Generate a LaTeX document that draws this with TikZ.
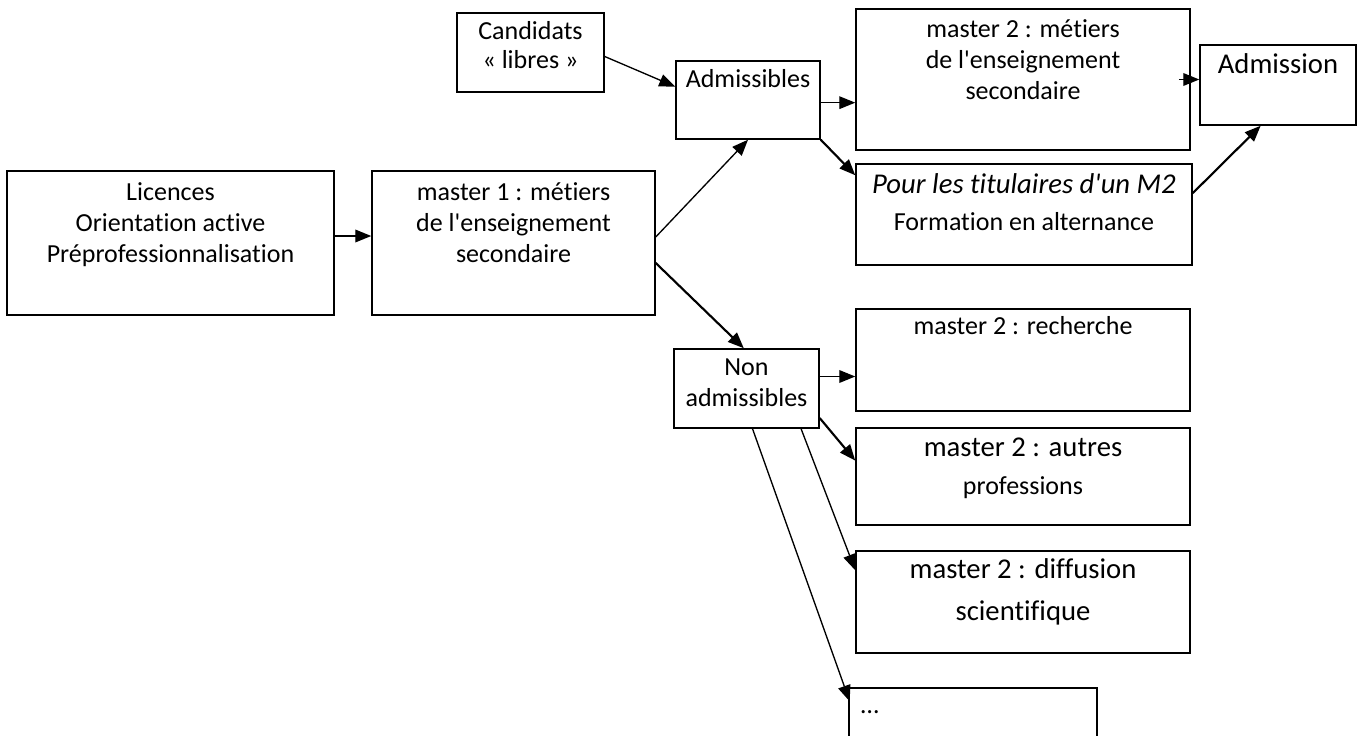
\documentclass[tikz,border=0pt]{standalone}
\usepackage{fontspec}
\setmainfont{Carlito}[Ligatures={TeXOff,NoCommon}]
\usetikzlibrary{arrows.meta,fit}

\begin{document}
\begin{tikzpicture}[x=0.75pt,y=-0.75pt,>={Triangle[length=12pt,width=9.5pt]},
  boite/.style={draw,line width=1.1pt,inner sep=0pt},
  texte/.style={anchor=base,align=center,inner sep=0pt,font=\fontsize{19.5}{23.25}\selectfont},
  grand/.style={anchor=base,inner sep=0pt,font=\fontsize{21.5}{25}\selectfont},
  fleche/.style={->,line width=1pt},
  grosse fleche/.style={->,line width=1.6pt}]
  \useasboundingbox (0,0) rectangle (1358,735);

  % boites
  \node[boite,fit={(7,171) (334,315)}] (lic) {};
  \node[boite,fit={(372,171) (655,315)}] (mun) {};
  \node[boite,fit={(457,13) (604,92)}] (cand) {};
  \node[boite,fit={(676,61) (820,139)}] (adm) {};
  \node[boite,fit={(856,9) (1190,150)}] (mdeux) {};
  \node[boite,fit={(1200,45) (1356,125)}] (admission) {};
  \node[boite,fit={(856,164) (1192,265)}] (tit) {};
  \node[boite,fit={(674,349) (819,428)}] (nonadm) {};
  \node[boite,fit={(856,309) (1190,411)}] (rech) {};
  \node[boite,fit={(856,428) (1190,525)}] (autres) {};
  \node[boite,fit={(856,551) (1190,653)}] (diff) {};
  \node[boite,line width=2pt,fit={(849,688) (1097,760)}] (dots) {};

  % textes (base = derniere ligne)
  \node[texte] at ([yshift=-69pt]lic.north) {Licences\\Orientation active\\Préprofessionnalisation};
  \node[texte] at ([yshift=-69pt]mun.north) {master 1 : métiers\\de l'enseignement\\secondaire};
  \node[texte] at ([yshift=-42pt]cand.north) {Candidats\\[-1.5pt]« libres »};
  \node[texte] at ([yshift=-20.25pt]adm.north) {Admissibles};
  \node[texte] at ([yshift=-68.25pt]mdeux.north) {master 2 : métiers\\de l'enseignement\\secondaire};
  \node[grand] at ([yshift=-21.75pt]admission.north) {Admission};
  \node[grand,font=\fontsize{21.5}{25}\selectfont\itshape] at ([yshift=-22.5pt]tit.north) {Pour les titulaires d'un M2};
  \node[texte] at ([yshift=-50.25pt]tit.north) {Formation en alternance};
  \node[texte] at ([yshift=-43.5pt]nonadm.north) {Non\\admissibles};
  \node[texte] at ([yshift=-19.5pt]rech.north) {master 2 : recherche};
  \node[grand] at ([yshift=-21.75pt]autres.north) {master 2 : autres};
  \node[texte] at ([yshift=-50.25pt]autres.north) {professions};
  \node[grand] at ([yshift=-21pt]diff.north) {master 2 : diffusion};
  \node[grand] at ([yshift=-52.5pt]diff.north) {scientifique};
  \node[texte,anchor=base west] at ([xshift=9.75pt,yshift=-20.25pt]dots.north west) {\ldots};

  % fleches
  \draw[fleche] ([yshift=5.25pt]lic.east) -- ([yshift=5.25pt]mun.west);
  \draw[fleche] ([yshift=-3pt]cand.east) -- ([yshift=10pt]adm.west);
  \draw[fleche] ([yshift=4.5pt]mun.east) -- (adm.south);
  \draw[grosse fleche] ([yshift=-15pt]mun.east) -- ([xshift=-2pt]nonadm.north);
  \draw[fleche] ([yshift=-2pt]adm.east) -- ([yshift=-2pt]adm.east -| mdeux.west);
  \draw[grosse fleche] (adm.south east) -- ([yshift=-9pt]tit.north west);
  \draw[fleche] ([xshift=-9pt]mdeux.east) -- (mdeux.east -| admission.west);
  \draw[grosse fleche] ([yshift=16pt]tit.east) -- ([xshift=-13pt]admission.south);
  \draw[fleche] ([yshift=9pt]nonadm.east) -- ([yshift=9pt]nonadm.east -| rech.west);
  \draw[grosse fleche] ([yshift=8pt]nonadm.south east) -- ([yshift=-25pt]autres.north west);
  \draw[fleche] ([xshift=-14pt]nonadm.south east) -- ([yshift=-15pt]diff.north west);
  \draw[fleche] ([xshift=4.5pt]nonadm.south) -- ([xshift=1.5pt,yshift=-11pt]dots.north west);
\end{tikzpicture}
\end{document}
